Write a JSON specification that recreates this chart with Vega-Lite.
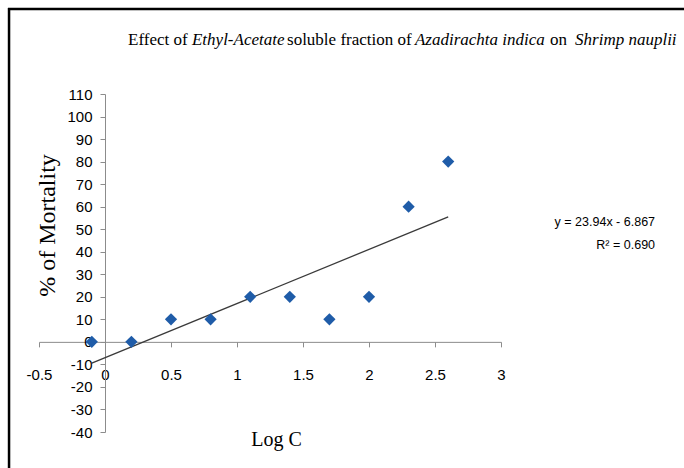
{
  "$schema": "https://vega.github.io/schema/vega-lite/v6.json",
  "width": 462,
  "height": 338,
  "autosize": {"type": "none"},
  "padding": {"left": 39, "top": 94, "right": 183, "bottom": 36},
  "background": "white",
  "config": {
    "view": {"stroke": null},
    "axis": {
      "grid": false,
      "domainColor": "#8c8c8c",
      "tickColor": "#8c8c8c",
      "tickSize": 5,
      "labelColor": "#000000",
      "labelFont": "Liberation Sans",
      "labelFontSize": 15,
      "labelOverlap": false,
      "labelBound": false,
      "labelFlush": false,
      "titleFont": "Liberation Serif",
      "titleFontWeight": "normal",
      "titleColor": "#000000"
    }
  },
  "resolve": {"axis": {"x": "independent", "y": "independent"}},
  "layer": [
    {
      "data": {"values": [
        {"x": -0.1, "y": 0},
        {"x": 0.2, "y": 0},
        {"x": 0.5, "y": 10},
        {"x": 0.8, "y": 10},
        {"x": 1.1, "y": 20},
        {"x": 1.4, "y": 20},
        {"x": 1.7, "y": 10},
        {"x": 2.0, "y": 20},
        {"x": 2.3, "y": 60},
        {"x": 2.6, "y": 80}
      ]},
      "encoding": {
        "x": {
          "field": "x", "type": "quantitative",
          "scale": {"domain": [-0.5, 3], "nice": false, "zero": false},
          "axis": {
            "values": [-0.5, 0, 0.5, 1, 1.5, 2, 2.5, 3],
            "labelExpr": "'' + datum.value",
            "labelOverlap": false,
            "offset": -90.13,
            "labelPadding": 21,
            "title": "Log C",
            "titleFontSize": 20,
            "titleX": 237,
            "titleY": 98,
            "titleBaseline": "middle"
          }
        },
        "y": {
          "field": "y", "type": "quantitative",
          "scale": {"domain": [-40, 110], "nice": false, "zero": false},
          "axis": {
            "values": [-40, -30, -20, -10, 0, 10, 20, 30, 40, 50, 60, 70, 80, 90, 100, 110],
            "labelExpr": "'' + datum.value",
            "labelOverlap": false,
            "offset": -66,
            "labelPadding": 8,
            "title": "% of Mortality",
            "titleFontSize": 24,
            "titleAngle": -90,
            "titleX": -58,
            "titleY": 131,
            "titleBaseline": "middle",
            "titleAlign": "center"
          }
        }
      },
      "layer": [
        {
          "transform": [{"regression": "y", "on": "x"}],
          "mark": {"type": "line", "color": "#3a3a3a", "strokeWidth": 1.3}
        },
        {
          "mark": {"type": "point", "shape": "diamond", "filled": true, "color": "#1f5ca8", "opacity": 1, "size": 150}
        }
      ]
    },
    {
      "data": {"values": [{"t": "y = 23.94x - 6.867"}]},
      "mark": {"type": "text", "align": "right", "baseline": "middle", "font": "Liberation Sans", "fontSize": 12.5, "color": "#000000", "clip": false},
      "encoding": {"text": {"field": "t"}, "x": {"datum": 4.167, "axis": null}, "y": {"datum": 53.2, "axis": null}}
    },
    {
      "data": {"values": [{"t": "R² = 0.690"}]},
      "mark": {"type": "text", "align": "right", "baseline": "middle", "font": "Liberation Sans", "fontSize": 12.5, "color": "#000000", "clip": false},
      "encoding": {"text": {"field": "t"}, "x": {"datum": 4.167, "axis": null}, "y": {"datum": 43.0, "axis": null}}
    },
    {
      "data": {"values": [{"t": "Effect of"}]},
      "mark": {"type": "text", "align": "left", "baseline": "middle", "font": "Liberation Serif", "fontSize": 17, "color": "#000000", "clip": false},
      "encoding": {"text": {"field": "t"}, "x": {"datum": 0.1742, "axis": null}, "y": {"datum": 134, "axis": null}}
    },
    {
      "data": {"values": [{"t": "Ethyl-Acetate"}]},
      "mark": {"type": "text", "align": "left", "baseline": "middle", "font": "Liberation Serif", "fontStyle": "italic", "fontSize": 17, "color": "#000000", "clip": false},
      "encoding": {"text": {"field": "t"}, "x": {"datum": 0.659, "axis": null}, "y": {"datum": 134, "axis": null}}
    },
    {
      "data": {"values": [{"t": "soluble fraction of"}]},
      "mark": {"type": "text", "align": "left", "baseline": "middle", "font": "Liberation Serif", "fontSize": 17, "color": "#000000", "clip": false},
      "encoding": {"text": {"field": "t"}, "x": {"datum": 1.379, "axis": null}, "y": {"datum": 134, "axis": null}}
    },
    {
      "data": {"values": [{"t": "Azadirachta indica"}]},
      "mark": {"type": "text", "align": "left", "baseline": "middle", "font": "Liberation Serif", "fontStyle": "italic", "fontSize": 17, "color": "#000000", "clip": false},
      "encoding": {"text": {"field": "t"}, "x": {"datum": 2.348, "axis": null}, "y": {"datum": 134, "axis": null}}
    },
    {
      "data": {"values": [{"t": "on"}]},
      "mark": {"type": "text", "align": "left", "baseline": "middle", "font": "Liberation Serif", "fontSize": 17, "color": "#000000", "clip": false},
      "encoding": {"text": {"field": "t"}, "x": {"datum": 3.371, "axis": null}, "y": {"datum": 134, "axis": null}}
    },
    {
      "data": {"values": [{"t": "Shrimp nauplii"}]},
      "mark": {"type": "text", "align": "left", "baseline": "middle", "font": "Liberation Serif", "fontStyle": "italic", "fontSize": 17, "color": "#000000", "clip": false},
      "encoding": {"text": {"field": "t"}, "x": {"datum": 3.561, "axis": null}, "y": {"datum": 134, "axis": null}}
    },
    {
      "data": {"values": [{}]},
      "mark": {"type": "rule", "color": "#000000", "strokeWidth": 2.5, "clip": false},
      "encoding": {"x": {"datum": -0.727, "axis": null}, "y": {"datum": 148.2, "axis": null}, "y2": {"datum": -60}}
    },
    {
      "data": {"values": [{}]},
      "mark": {"type": "rule", "color": "#000000", "strokeWidth": 2.5, "clip": false},
      "encoding": {"y": {"datum": 147.7, "axis": null}, "x": {"datum": -0.735, "axis": null}, "x2": {"datum": 4.5}}
    }
  ]
}
